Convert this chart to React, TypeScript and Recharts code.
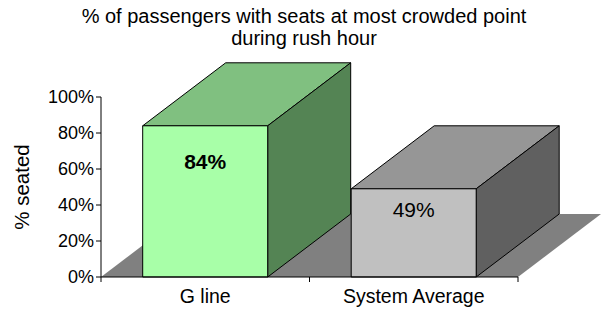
import React from 'react';
import { BarChart, Bar, XAxis, YAxis, ReferenceArea, LabelList } from 'recharts';

const categories = ['G line', 'System Average'];
const seatedShare = [0.84, 0.49];
const valueLabels = ['84%', '49%'];
const yTicks = [0, 0.2, 0.4, 0.6, 0.8, 1];
const titleLines = ['% of passengers with seats at most crowded point', 'during rush hour'];
const yLabel = '% seated';

const data = categories.map((c, i) => ({ name: c, value: seatedShare[i], label: valueLabels[i] }));

const DX = 83;
const DY = -63;
const FONT = '"Liberation Sans", Arial, sans-serif';
const X_TICK_SIZE = 5;
const X_TICK_MARGIN = 7;

const palettes = [
  { front: '#A8FFA8', top: '#80C080', side: '#548454' },
  { front: '#C0C0C0', top: '#969696', side: '#606060' },
];
const labelStyle = [
  { dy: 36, weight: 'bold' },
  { dy: 21, weight: 'normal' },
];

const Box3D = (props: any) => {
  const { x, y, width: w, height: h, index } = props;
  const p = palettes[index % palettes.length];
  return (
    <g stroke="#000" strokeWidth={1} strokeLinejoin="round">
      <polygon
        points={`${x},${y} ${x + DX},${y + DY} ${x + w + DX},${y + DY} ${x + w},${y}`}
        fill={p.top}
      />
      <polygon
        points={`${x + w},${y} ${x + w + DX},${y + DY} ${x + w + DX},${y + h + DY} ${x + w},${y + h}`}
        fill={p.side}
      />
      <rect x={x} y={y} width={w} height={h} fill={p.front} />
    </g>
  );
};

const Floor = (props: any) => {
  const { x, y, width, height } = props;
  const yb = y + height;
  return (
    <polygon
      points={`${x},${yb} ${x + width},${yb} ${x + width + DX},${yb + DY} ${x + DX},${yb + DY}`}
      fill="#808080"
      stroke="none"
    />
  );
};

const CategoryTick = (props: any) => {
  const { x, y, payload, index, visibleTicksCount } = props;
  const half = payload && payload.offset ? payload.offset : 0;
  const axisY = y - X_TICK_SIZE - X_TICK_MARGIN;
  const isLast = visibleTicksCount ? index === visibleTicksCount - 1 : index === categories.length - 1;
  return (
    <g>
      <line x1={x - half} x2={x - half} y1={axisY} y2={axisY + X_TICK_SIZE} stroke="#000" />
      {isLast && (
        <line x1={x + half} x2={x + half} y1={axisY} y2={axisY + X_TICK_SIZE} stroke="#000" />
      )}
      <text
        x={x}
        y={y}
        dy="0.71em"
        textAnchor="middle"
        fontFamily={FONT}
        fontSize={19.5}
        fill="#000"
      >
        {payload.value}
      </text>
    </g>
  );
};

const ValueLabel = (props: any) => {
  const { x, y, width, index, value } = props;
  const s = labelStyle[index % labelStyle.length];
  return (
    <text
      x={x + width / 2}
      y={y + s.dy}
      textAnchor="middle"
      dominantBaseline="central"
      fontFamily={FONT}
      fontSize={21}
      fontWeight={s.weight}
      fill="#000"
    >
      {value}
    </text>
  );
};

export default function App() {
  return (
    <div style={{ position: 'absolute', left: 0, top: 0, width: 605, height: 310, background: '#fff' }}>
      <svg width={605} height={50} style={{ position: 'absolute', left: 0, top: 0 }}>
        {titleLines.map((t, i) => (
          <text
            key={i}
            x={304}
            y={16 + i * 22}
            textAnchor="middle"
            dominantBaseline="central"
            fontFamily={FONT}
            fontSize={20}
            fill="#000"
          >
            {t}
          </text>
        ))}
      </svg>
      <div style={{ position: 'absolute', left: 0, top: 0 }}>
        <BarChart
          width={605}
          height={310}
          data={data}
          margin={{ top: 97, right: 87, bottom: 3, left: 41 }}
          barCategoryGap="20%"
        >
          <ReferenceArea y1={0} y2={1} shape={<Floor />} ifOverflow="visible" />
          <XAxis
            dataKey="name"
            height={30}
            axisLine={{ stroke: '#000' }}
            tickLine={false}
            tickSize={X_TICK_SIZE}
            tickMargin={X_TICK_MARGIN}
            interval={0}
            tick={<CategoryTick />}
          />
          <YAxis
            width={60}
            domain={[0, 1]}
            ticks={yTicks}
            interval={0}
            tickFormatter={(v: number) => `${Math.round(v * 100)}%`}
            axisLine={{ stroke: '#000' }}
            tickLine={{ stroke: '#000' }}
            tickSize={5}
            tickMargin={2}
            tick={{ fill: '#000', fontFamily: FONT, fontSize: 18 }}
            label={{
              value: yLabel,
              angle: -90,
              position: 'insideLeft',
              offset: 0,
              dx: -19,
              style: { fill: '#000', fontFamily: FONT, fontSize: 20.5, textAnchor: 'middle' },
            }}
          />
          <Bar dataKey="value" shape={<Box3D />} isAnimationActive={false}>
            <LabelList dataKey="label" content={<ValueLabel />} />
          </Bar>
        </BarChart>
      </div>
    </div>
  );
}
